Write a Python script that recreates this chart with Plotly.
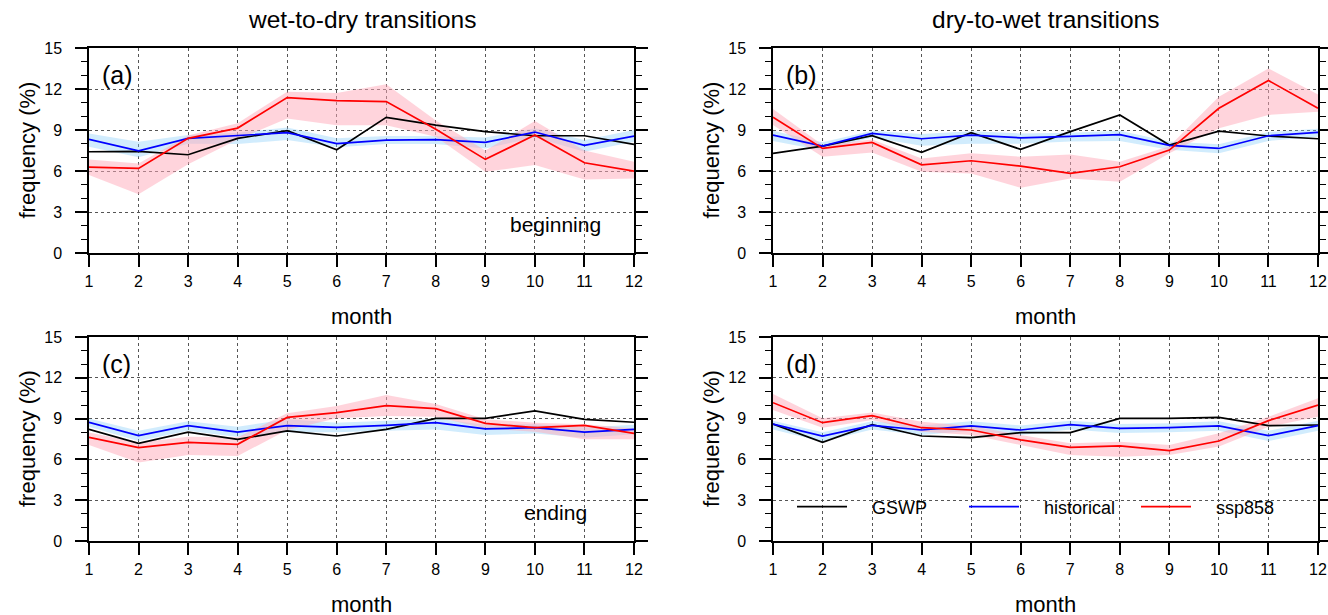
import plotly.graph_objects as go

W, H = 1328, 615
months = list(range(1, 13))
month_ticks = [str(m) for m in months]
y_ticks = [0, 3, 6, 9, 12, 15]

# ---- panel (a): wet-to-dry, beginning ----
a_gswp = [7.41, 7.44, 7.19, 8.39, 8.95, 7.55, 9.93, 9.36, 8.88, 8.58, 8.58, 7.95]
a_hist = [8.31, 7.48, 8.39, 8.58, 8.80, 8.00, 8.26, 8.29, 8.09, 8.85, 7.87, 8.56]
a_hist_hi = [8.75, 8.14, 8.63, 8.80, 9.19, 8.39, 8.56, 8.56, 8.46, 9.12, 8.26, 9.00]
a_hist_lo = [7.78, 7.00, 8.00, 7.97, 8.26, 7.73, 7.97, 7.97, 7.65, 8.46, 7.41, 8.14]
a_ssp = [6.28, 6.19, 8.39, 9.14, 11.37, 11.15, 11.08, 9.05, 6.85, 8.63, 6.60, 5.99]
a_ssp_hi = [6.85, 6.55, 8.60, 9.50, 11.80, 11.70, 12.35, 9.70, 7.50, 9.65, 7.50, 6.67]
a_ssp_lo = [5.70, 4.30, 6.50, 8.30, 9.85, 9.35, 9.35, 8.50, 5.95, 6.43, 5.38, 5.45]

# ---- panel (b): dry-to-wet, beginning ----
b_gswp = [7.29, 7.82, 8.58, 7.36, 8.80, 7.58, 8.88, 10.10, 7.90, 8.92, 8.56, 8.36]
b_hist = [8.63, 7.82, 8.75, 8.36, 8.63, 8.43, 8.53, 8.66, 7.87, 7.65, 8.58, 8.83]
b_hist_hi = [8.95, 8.10, 8.95, 8.70, 8.90, 8.75, 8.80, 8.95, 8.15, 7.95, 8.85, 9.10]
b_hist_lo = [8.20, 7.50, 8.45, 7.85, 8.00, 8.00, 8.15, 8.20, 7.55, 7.30, 8.20, 8.50]
b_ssp = [9.93, 7.65, 8.09, 6.45, 6.75, 6.36, 5.82, 6.31, 7.53, 10.59, 12.62, 10.59]
b_ssp_hi = [10.54, 7.90, 8.30, 6.92, 7.29, 7.04, 7.21, 6.67, 7.82, 11.44, 13.50, 11.60]
b_ssp_lo = [9.36, 7.04, 7.36, 5.94, 5.82, 4.77, 5.45, 5.21, 7.29, 9.12, 10.10, 10.34]

# ---- panel (c): wet-to-dry, ending ----
c_gswp = [8.21, 7.18, 8.01, 7.48, 8.09, 7.72, 8.21, 9.02, 9.02, 9.56, 8.95, 8.73]
c_hist = [8.73, 7.75, 8.48, 8.01, 8.48, 8.36, 8.50, 8.70, 8.24, 8.33, 8.01, 8.21]
c_hist_hi = [9.00, 8.10, 8.80, 8.40, 8.95, 8.70, 8.85, 9.00, 8.55, 8.60, 8.35, 8.55]
c_hist_lo = [8.40, 7.35, 8.10, 7.65, 8.00, 8.00, 8.10, 8.20, 7.80, 7.90, 7.60, 7.85]
c_ssp = [7.62, 6.86, 7.25, 7.11, 9.09, 9.44, 9.95, 9.73, 8.65, 8.33, 8.50, 7.92]
c_ssp_hi = [7.97, 7.25, 7.67, 7.62, 9.39, 9.93, 10.74, 10.07, 8.95, 8.70, 8.58, 8.28]
c_ssp_lo = [7.06, 5.78, 6.32, 6.25, 8.16, 9.02, 9.19, 9.14, 8.28, 8.04, 7.48, 7.48]

# ---- panel (d): dry-to-wet, ending ----
d_gswp = [8.60, 7.25, 8.55, 7.72, 7.60, 7.97, 7.97, 9.02, 9.02, 9.09, 8.48, 8.53]
d_hist = [8.60, 7.72, 8.50, 8.16, 8.46, 8.16, 8.55, 8.28, 8.33, 8.46, 7.75, 8.48]
d_hist_hi = [8.85, 8.00, 8.80, 8.50, 8.80, 8.50, 8.85, 8.60, 8.65, 8.80, 8.10, 8.85]
d_hist_lo = [8.20, 7.30, 8.20, 7.80, 8.10, 7.80, 8.20, 7.95, 8.00, 8.10, 7.35, 8.10]
d_ssp = [10.17, 8.70, 9.22, 8.33, 8.16, 7.43, 6.89, 6.99, 6.64, 7.35, 8.85, 10.00]
d_ssp_hi = [10.80, 9.02, 9.44, 8.77, 8.46, 7.79, 7.18, 7.30, 7.06, 7.92, 9.14, 10.49]
d_ssp_lo = [9.63, 8.33, 8.90, 8.04, 7.79, 7.06, 6.32, 6.20, 6.32, 6.94, 8.40, 9.14]

series_names = ["GSWP", "historical", "ssp858"]
panel_labels = ["(a)", "(b)", "(c)", "(d)"]
column_titles = ["wet-to-dry transitions", "dry-to-wet transitions"]
stage_labels = {0: "beginning", 2: "ending"}

panels = [
    (a_gswp, a_hist, a_hist_lo, a_hist_hi, a_ssp, a_ssp_lo, a_ssp_hi),
    (b_gswp, b_hist, b_hist_lo, b_hist_hi, b_ssp, b_ssp_lo, b_ssp_hi),
    (c_gswp, c_hist, c_hist_lo, c_hist_hi, c_ssp, c_ssp_lo, c_ssp_hi),
    (d_gswp, d_hist, d_hist_lo, d_hist_hi, d_ssp, d_ssp_lo, d_ssp_hi),
]

FONT = "Liberation Sans, Arial, Helvetica, sans-serif"
BLUE_BAND = "rgba(135,206,250,0.38)"
PINK_BAND = "rgba(255,170,185,0.50)"
LINE_COLORS = ["black", "blue", "red"]

# pixel boxes of the four plot areas (left, right, top, bottom)
boxes = [(89, 634, 48, 253), (773, 1318, 48, 253),
         (89, 634, 337, 541), (773, 1318, 337, 541)]

fig = go.Figure()
layout = dict(
    template="none",
    width=W, height=H, margin=dict(l=0, r=0, t=0, b=0, pad=0),
    paper_bgcolor="white", plot_bgcolor="white",
    font=dict(family=FONT, color="black", size=16),
    showlegend=True,
)

annotations = []
for i, (gswp, hist, hlo, hhi, ssp, slo, shi) in enumerate(panels):
    k = "" if i == 0 else str(i + 1)
    xa, ya = "x" + k, "y" + k
    L, R, T, B = boxes[i]
    layout["xaxis" + k] = dict(
        domain=[L / W, R / W], anchor=ya, range=[1, 12], automargin=False,
        tickmode="array", tickvals=months, ticktext=month_ticks,
        ticks="outside", ticklen=12, tickwidth=1.5, tickcolor="black",
        showline=True, linewidth=1.5, linecolor="black", mirror=True,
        showgrid=True, gridcolor="#555555", gridwidth=1, griddash="3px,3px",
        zeroline=False, tickfont=dict(size=16), ticklabelstandoff=1,
    )
    layout["yaxis" + k] = dict(
        domain=[1 - B / H, 1 - T / H], anchor=xa, range=[0, 15], automargin=False,
        tickmode="array", tickvals=y_ticks,
        ticks="outside", ticklen=12, tickwidth=1.5, tickcolor="black",
        minor=dict(dtick=1, ticks="outside", ticklen=6, tickwidth=1.2,
                   tickcolor="black", showgrid=False),
        showline=True, linewidth=1.5, linecolor="black", mirror="ticks",
        showgrid=True, gridcolor="#555555", gridwidth=1, griddash="3px,3px",
        zeroline=False, tickfont=dict(size=16), ticklabelstandoff=10,
    )
    # bands
    fig.add_trace(go.Scatter(x=months + months[::-1], y=hhi + hlo[::-1],
                             fill="toself", fillcolor=BLUE_BAND, mode="none",
                             line=dict(width=0), hoverinfo="skip",
                             showlegend=False, xaxis=xa, yaxis=ya))
    fig.add_trace(go.Scatter(x=months + months[::-1], y=shi + slo[::-1],
                             fill="toself", fillcolor=PINK_BAND, mode="none",
                             line=dict(width=0), hoverinfo="skip",
                             showlegend=False, xaxis=xa, yaxis=ya))
    for name, vals, col in zip(series_names, [gswp, hist, ssp], LINE_COLORS):
        fig.add_trace(go.Scatter(x=months, y=vals, mode="lines",
                                 line=dict(color=col, width=1.7),
                                 name="    " + name, showlegend=(i == 3),
                                 xaxis=xa, yaxis=ya))
    # panel label
    annotations.append(dict(text=panel_labels[i], xref=xa + " domain", yref=ya + " domain",
                            x=11 / (R - L), y=(B - T - 27) / (B - T),
                            xanchor="left", yanchor="middle", showarrow=False,
                            font=dict(size=25)))
    # y title
    annotations.append(dict(text="frequency (%)", xref="paper", yref="paper",
                            x=(L - 62) / W, y=1 - ((T + B) / 2) / H, textangle=-90,
                            xanchor="center", yanchor="middle", showarrow=False,
                            font=dict(size=22)))
    # x title
    annotations.append(dict(text="month", xref="paper", yref="paper",
                            x=((L + R) / 2) / W, y=1 - (B + 63) / H,
                            xanchor="center", yanchor="middle", showarrow=False,
                            font=dict(size=22)))
    if i in stage_labels:
        annotations.append(dict(text=stage_labels[i], xref=xa + " domain",
                                yref=ya + " domain", x=(555 - L) / (R - L),
                                y=29 / (B - T),
                                xanchor="center", yanchor="middle", showarrow=False,
                                font=dict(size=21)))
    if i < 2:
        annotations.append(dict(text=column_titles[i], xref="paper", yref="paper",
                                x=((L + R) / 2) / W, y=1 - 20 / H,
                                xanchor="center", yanchor="middle", showarrow=False,
                                font=dict(size=24.5)))

layout["annotations"] = annotations
layout["legend"] = dict(orientation="h", x=792 / W, y=1 - 507 / H,
                        xanchor="left", yanchor="middle",
                        bgcolor="rgba(0,0,0,0)", font=dict(size=18),
                        itemwidth=50, entrywidth=107, entrywidthmode="pixels",
                        tracegroupgap=0)
fig.update_layout(**layout)
fig.write_html("out.html", config={"displayModeBar": False},
               post_script="document.body.style.margin='0';document.body.style.overflow='hidden';")
